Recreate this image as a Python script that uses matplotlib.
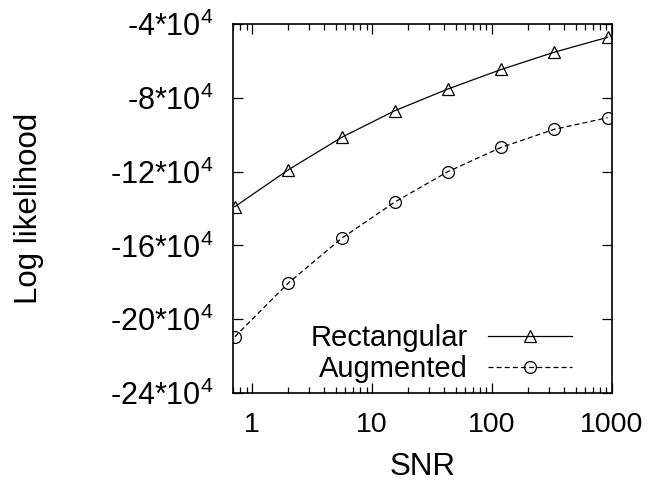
import numpy as np
import matplotlib
matplotlib.use('Agg')
import matplotlib.pyplot as plt
from matplotlib.ticker import LogLocator, NullFormatter

plt.rcParams['font.family'] = ['Liberation Sans', 'DejaVu Sans']
plt.rcParams['mathtext.fontset'] = 'custom'
plt.rcParams['mathtext.rm'] = 'Liberation Sans'
plt.rcParams['mathtext.it'] = 'Liberation Sans'

# 数据
snr = [0.72, 2.0, 5.6, 15.5, 43, 120, 330, 920]
rectangular = [-139000, -119100, -101400, -87000, -75200, -64600, -55300, -47200]
augmented = [-209500, -180500, -156100, -136500, -120000, -106800, -97100, -90800]
y_ticks = [-240000, -200000, -160000, -120000, -80000, -40000]
y_tick_labels = ['-24*10$^4$', '-20*10$^4$', '-16*10$^4$', '-12*10$^4$', '-8*10$^4$', '-4*10$^4$']
x_ticks = [1, 10, 100, 1000]
x_tick_labels = ['1', '10', '100', '1000']

fig = plt.figure(figsize=(6.51, 4.90), dpi=100)
ax = fig.add_axes([0.358, 0.198, 0.582, 0.753])

ax.plot(snr, rectangular, color='black', lw=0.9, marker='^', ms=9,
        mfc='none', mec='black', mew=0.9, label='Rectangular')
ax.plot(snr, augmented, color='black', lw=0.9, ls=(0, (4, 2.5)), marker='o', ms=8.5,
        mfc='none', mec='black', mew=0.9, label='Augmented')

ax.set_xscale('log')
ax.set_xlim(0.695, 1000)
ax.set_ylim(-240000, -40000)
ax.set_xticks(x_ticks)
ax.set_xticklabels(x_tick_labels)
ax.xaxis.set_minor_locator(LogLocator(base=10, subs=np.arange(2, 10)))
ax.xaxis.set_minor_formatter(NullFormatter())
ax.set_yticks(y_ticks)
ax.set_yticklabels(y_tick_labels)

ax.tick_params(which='both', direction='in', top=True, right=True)
ax.tick_params(axis='x', labelsize=20.5, pad=14)
ax.tick_params(axis='y', labelsize=22, pad=14)
ax.tick_params(which='major', length=7, width=0.9)
ax.tick_params(which='minor', length=4, width=0.9)
for s in ax.spines.values():
    s.set_linewidth(1.2)

ax.set_xlabel('SNR', fontsize=22.5, labelpad=10)
ax.set_ylabel('Log likelihood', fontsize=22.5)
ax.yaxis.set_label_coords(-0.50, 0.5)

ax.legend(loc='lower right', bbox_to_anchor=(0.965, -0.045), frameon=False, fontsize=21,
          markerfirst=False, handlelength=2.9, handletextpad=0.7, labelspacing=0.1)

plt.savefig('out.png', dpi=100)
